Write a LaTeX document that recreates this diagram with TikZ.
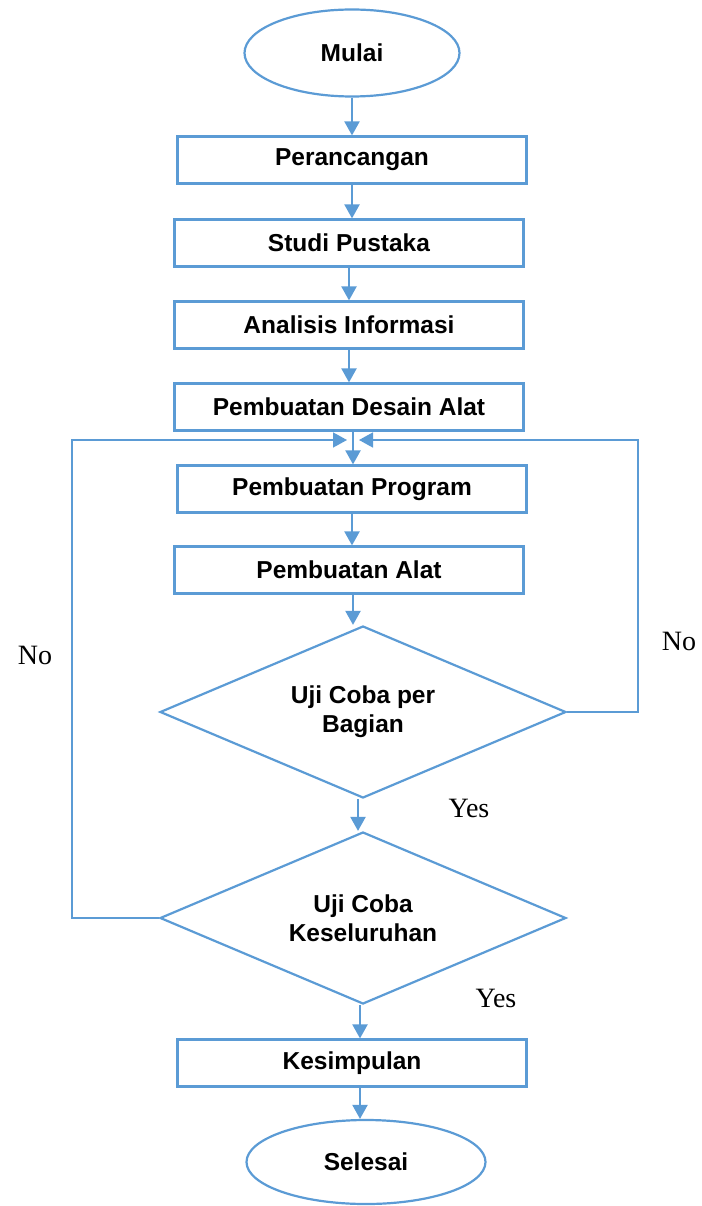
\documentclass[tikz,border=0pt]{standalone}
\usepackage{fontspec}
\setmainfont{Liberation Serif}
\setsansfont{Liberation Sans}
\usetikzlibrary{shapes.geometric,arrows.meta,calc}
\definecolor{flowblue}{HTML}{5B9BD5}
\begin{document}
\begin{tikzpicture}[x=1pt,y=-1pt,
  every node/.style={font=\sffamily\bfseries\fontsize{24.5}{29}\selectfont},
  procbox/.style={draw=flowblue,line width=2.2pt,rectangle,minimum width=349pt,minimum height=47pt,inner sep=0pt,fill=white},
  termbox/.style={draw=flowblue,line width=2.2pt,ellipse,inner sep=0pt,fill=white},
  decbox/.style={draw=flowblue,line width=2.2pt,diamond,aspect=2.36,minimum width=406pt,minimum height=172pt,inner sep=0pt,align=center,fill=white},
  flow/.style={draw=flowblue,line width=2.2pt,-{Triangle[length=14pt,width=15pt]}},
  loopline/.style={draw=flowblue,line width=1.6pt,-{Triangle[length=14pt,width=15pt]}},
  answer/.style={font=\rmfamily\fontsize{28}{30}\selectfont}]
\useasboundingbox (0,0) rectangle (701,1206);

% process chain
\node[termbox,minimum width=215pt,minimum height=87pt] (start) at (352,53) {Mulai};
\node[procbox] (p1) at (352,160) {Perancangan};
\node[procbox] (p2) at (349,243) {Studi Pustaka};
\node[procbox] (p3) at (349,325) {Analisis Informasi};
\node[procbox] (p4) at (349,407) {Pembuatan Desain Alat};
\node[procbox] (p5) at (352,489) {Pembuatan Program};
\node[procbox] (p6) at (349,570) {Pembuatan Alat};
\node[decbox] (d1) at (363,712) {Uji Coba per\\Bagian};
\node[decbox] (d2) at (363,918) {Uji Coba\\Keseluruhan};
\node[procbox] (p7) at (352,1063) {Kesimpulan};
\node[termbox,minimum width=239pt,minimum height=84pt] (stop) at (366,1162) {Selesai};

% merge point of the two loops
\coordinate (join) at (353,440);

% straight arrows
\draw[flow] (start.south) -- (start.south |- p1.north);
\draw[flow] (p1.south) -- (p1.south |- p2.north);
\draw[flow] (p2.south) -- (p2.south |- p3.north);
\draw[flow] (p3.south) -- (p3.south |- p4.north);
\draw[flow] (p4.south -| join) -- (join |- p5.north);
\draw[flow] (p5.south) -- (p5.south |- p6.north);
\draw[flow] (p6.south -| join) -- (join |- d1.north);
\draw[flow] (d1.south -| 358,0) -- (358,0 |- d2.north);
\draw[flow] (d2.south -| 360,0) -- (360,0 |- p7.north);
\draw[flow] (p7.south -| 360,0) -- (360,0 |- stop.north);

% loops back to the program step
\draw[loopline,shorten >=6pt] (d1.east) -- (638,712) |- (join);
\draw[loopline,shorten >=6pt] (d2.west) -- (72,918) |- (join);

% branch labels
\node[answer] at (35,655) {No};
\node[answer] at (679,641) {No};
\node[answer] at (469,808) {Yes};
\node[answer] at (496,998) {Yes};
\end{tikzpicture}
\end{document}
